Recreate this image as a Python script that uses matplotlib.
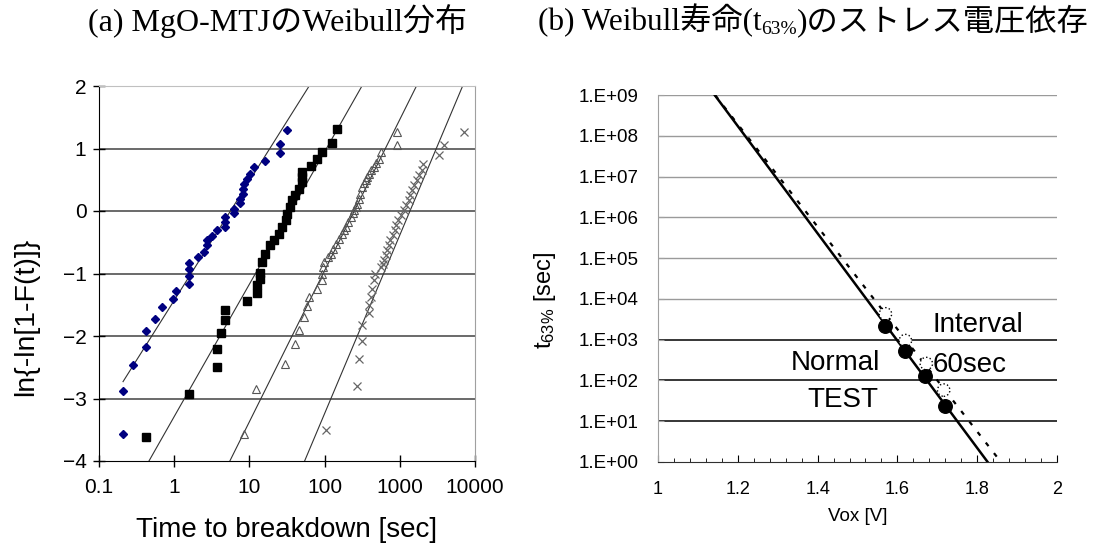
import numpy as np
import matplotlib
matplotlib.use('Agg')
from matplotlib import pyplot as plt
from matplotlib.ticker import FixedLocator, NullLocator

# (a) Weibull plot data: time to breakdown [sec], ln{-ln[1-F(t)]}
s1_t = [0.207, 0.207, 0.28, 0.42, 0.42, 0.55, 0.69, 0.96, 1.06, 1.55, 1.55, 1.55, 1.55,
        2.1, 2.5, 2.7, 2.7, 3.2, 3.7, 4.8, 4.8, 4.8, 6.2, 6.2, 7.4, 7.4, 8.3, 8.3, 8.6,
        9.3, 10.3, 11.4, 16.3, 25.9, 25.9, 31.8]
s1_y = [-3.57, -2.88, -2.46, -2.17, -1.92, -1.73, -1.54, -1.41, -1.28, -1.16, -1.04, -0.93, -0.83,
        -0.73, -0.65, -0.54, -0.46, -0.40, -0.31, -0.25, -0.17, -0.09, -0.03, 0.04, 0.13, 0.20, 0.28, 0.36, 0.44,
        0.51, 0.59, 0.70, 0.80, 0.93, 1.07, 1.30]

s2_t = [0.42, 1.55, 3.7, 3.7, 4.2, 4.8, 4.8, 9.3, 12.6, 12.6, 13.7, 13.7, 14.8, 16.3, 18.9, 21,
        24.5, 27.3, 30.3, 31.8, 35, 37, 41, 45.5, 50, 50, 50, 65, 80, 92, 127, 148]
s2_y = [-3.61, -2.92, -2.49, -2.20, -1.95, -1.75, -1.58, -1.44, -1.31, -1.18, -1.08, -0.99, -0.81, -0.68, -0.54, -0.46,
        -0.36, -0.25, -0.14, -0.04, 0.07, 0.18, 0.26, 0.36, 0.46, 0.55, 0.63, 0.72, 0.84, 0.95, 1.09, 1.31]

s3_t = [8.4, 12.3, 30.2, 41, 45, 53, 58.5, 61.4, 80, 92.5, 95, 92.5, 98, 110, 120, 130, 140, 155, 172, 180,
        190, 205, 222, 235, 246, 260, 272, 285, 300, 317, 330, 350, 370, 387, 410, 450, 480, 530, 560, 931, 931]
s3_y = [-3.57, -2.85, -2.44, -2.13, -1.90, -1.69, -1.52, -1.37, -1.24, -1.10, -0.90, -1.00, -0.81, -0.74, -0.68, -0.60, -0.52, -0.44, -0.36, -0.30,
        -0.25, -0.17, -0.09, -0.03, 0.02, 0.07, 0.12, 0.20, 0.28, 0.39, 0.45, 0.50, 0.55, 0.60, 0.66, 0.71, 0.77, 0.84, 0.95, 1.06, 1.27]

s4_t = [103, 267, 287, 317, 317, 387, 387, 410, 430, 450, 470, 560, 590, 618, 650, 680, 710, 750, 810, 870,
        900, 950, 1050, 1140, 1220, 1310, 1380, 1440, 1550, 1680, 1800, 1950, 2050, 3340, 3830, 7060]
s4_y = [-3.50, -2.80, -2.37, -2.08, -1.82, -1.63, -1.50, -1.37, -1.24, -1.10, -1.00, -0.90, -0.85, -0.78, -0.70, -0.62, -0.54, -0.46, -0.38, -0.30,
        -0.22, -0.14, -0.06, 0.02, 0.10, 0.18, 0.26, 0.34, 0.42, 0.50, 0.58, 0.66, 0.76, 0.90, 1.06, 1.27]

# Weibull fit lines: scale eta [sec], shape beta
eta = [5.6, 35.7, 248, 1365]
beta = [0.83, 0.92, 1.05, 1.24]

# (b) t63% vs stress voltage
v_normal = [1.57, 1.62, 1.67, 1.72]
t_normal = [2200, 540, 125, 23]
v_interval = [1.57, 1.62, 1.6725, 1.716]
t_interval = [4300, 950, 260, 58]

W, H = 1094, 547
fig = plt.figure(figsize=(W / 100, H / 100), dpi=100)
plt.rcParams['font.family'] = ['Liberation Sans', 'DejaVu Sans']
title_font = ['Liberation Serif', 'Noto Sans CJK JP']

# ---------------- (a) ----------------
ax1 = fig.add_axes([99 / W, (H - 461) / H, 376 / W, 375 / H])
ax1.set_xscale('log')
ax1.set_xlim(0.1, 10000)
ax1.set_ylim(-4, 2)
for i in range(1, 6):
    ax1.axhline(i - 4, color='#505050', lw=1.2, zorder=1)

ax1.plot(s1_t, s1_y, 'D', color='#000080', ms=3.8, zorder=3)
ax1.plot(s2_t, s2_y, 's', color='black', ms=5.5, zorder=3)
ax1.plot(s3_t, s3_y, '^', mfc='none', mec='#555555', mew=0.8, ms=5.5, zorder=3)
ax1.plot(s4_t, s4_y, 'x', color='#666666', mew=0.9, ms=6, zorder=3)

y_start = [min(s1_y) + 0.84, -4, -4, -4]
for k in range(4):
    yy = np.linspace(y_start[k], 2.3, 50)
    tt = eta[k] * np.exp(yy / beta[k])
    ax1.plot(tt, yy, color='#333333', lw=0.8, zorder=2)

ax1.xaxis.set_major_locator(FixedLocator([0.1, 1, 10, 100, 1000, 10000]))
ax1.xaxis.set_minor_locator(NullLocator())
ax1.set_xticklabels(['0.1', '1', '10', '100', '1000', '10000'])
ax1.set_yticks(range(-4, 3))
ax1.tick_params(direction='inout', length=8, width=1, labelsize=15, color='black')
ax1.tick_params(axis='x', pad=8)
ax1.tick_params(axis='y', pad=5)
ax1.spines['left'].set_color('black')
ax1.spines['bottom'].set_color('black')
ax1.spines['top'].set_color('#c0c0c0')
ax1.spines['right'].set_color('#a0a0a0')
ax1.set_xlabel('Time to breakdown [sec]', fontsize=20)
ax1.xaxis.set_label_coords(0.5, -0.15)
ax1.set_ylabel('ln{-ln[1-F(t)]}', fontsize=20.5)
ax1.yaxis.set_label_coords(-0.16, 0.384)

fig.text(88 / W, 1 - 21 / H, '(a) MgO-MTJのWeibull分布', family=title_font,
         fontsize=23, va='center', ha='left')

# ---------------- (b) ----------------
ax2 = fig.add_axes([658 / W, (H - 462) / H, 399 / W, 367 / H])
ax2.set_yscale('log')
ax2.set_xlim(1, 2)
ax2.set_ylim(1, 1e9)
for d in range(1, 10):
    c = 'black' if d <= 3 else '#9a9a9a'
    ax2.axhline(10.0 ** d, color=c, lw=1.1 if d <= 3 else 1.0, zorder=1)

vv = np.linspace(1.0, 2.0, 200)
p = np.polyfit(v_interval, np.log10(t_interval), 1)
ax2.plot(vv, 10 ** np.polyval(p, vv), color='black', lw=1.6, ls=(0, (2, 4)), zorder=2)
p = np.polyfit(v_normal, np.log10(t_normal), 1)
ax2.plot(vv, 10 ** np.polyval(p, vv), color='black', lw=1.8, zorder=2)

ax2.scatter(v_interval, t_interval, s=80, facecolors='white', edgecolors='black',
            linewidths=1.0, linestyles=':', zorder=3)
ax2.scatter(v_normal, t_normal, s=95, color='black', zorder=4)

ax2.set_yticks([10.0 ** d for d in range(10)])
ax2.set_yticklabels(['1.E+%02d' % d for d in range(10)])
ax2.yaxis.set_minor_locator(NullLocator())
ax2.set_xticks(np.arange(1.0, 2.01, 0.2))
ax2.set_xticklabels(['1', '1.2', '1.4', '1.6', '1.8', '2'])
ax2.xaxis.set_minor_locator(FixedLocator(np.arange(1.0, 2.001, 0.04)))
ax2.tick_params(axis='y', direction='in', length=4, labelsize=13.5, pad=14, color='#a0a0a0')
ax2.tick_params(axis='x', which='major', direction='in', length=5, labelsize=13, pad=14)
ax2.tick_params(axis='x', which='minor', direction='in', length=3)
ax2.spines['top'].set_visible(False)
ax2.spines['right'].set_visible(False)
ax2.spines['left'].set_color('#a0a0a0')
ax2.spines['bottom'].set_color('#303030')
ax2.set_xlabel('Vox [V]', fontsize=13.5)
ax2.xaxis.set_label_coords(0.5, -0.125)
ax2.set_ylabel(r'$\mathregular{t_{63\%}}$ [sec]', fontsize=17)
ax2.yaxis.set_label_coords(-0.25, 0.44)

ax2.text(1.6875, 10 ** 3.35, 'Interval', fontsize=20, ha='left', va='center')
ax2.text(1.6875, 10 ** 2.38, '60sec', fontsize=20, ha='left', va='center')
ax2.text(1.5575, 10 ** 2.43, 'Normal', fontsize=20, ha='right', va='center')
ax2.text(1.5525, 10 ** 1.52, 'TEST', fontsize=20, ha='right', va='center')

t1 = fig.text(538 / W, 1 - 30 / H, '(b) Weibull寿命(t', family=title_font,
              fontsize=22.5, va='baseline', ha='left')
t2 = ax2.annotate('63%', xy=(1, 0), xycoords=t1, xytext=(0, -1), textcoords='offset points',
                  family=title_font, fontsize=14, va='bottom', ha='left', annotation_clip=False)
ax2.annotate(')のストレス電圧依存', xy=(1, 0), xycoords=(t2, t1), family=title_font,
             fontsize=22.5, va='bottom', ha='left', annotation_clip=False)

plt.savefig('out.png', dpi=100)
